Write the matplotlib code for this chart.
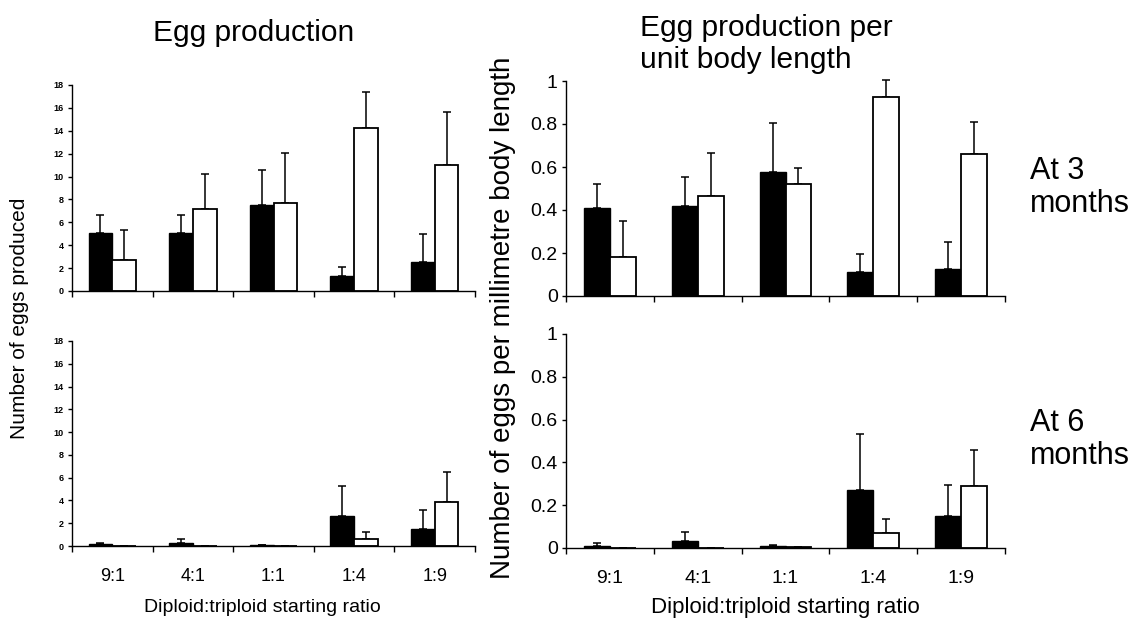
import matplotlib
matplotlib.use("Agg")
import matplotlib.pyplot as plt
import numpy as np

plt.rcParams['font.family'] = ['Liberation Sans', 'DejaVu Sans']

categories = ["9:1", "4:1", "1:1", "1:4", "1:9"]

# Egg production (number of eggs), 3 months
eggs3_diploid = [5.1, 5.1, 7.5, 1.3, 2.5]
eggs3_diploid_err = [1.5, 1.5, 3.1, 0.8, 2.5]
eggs3_triploid = [2.7, 7.2, 7.7, 14.2, 11.0]
eggs3_triploid_err = [2.6, 3.0, 4.4, 3.2, 4.6]

# Egg production, 6 months
eggs6_diploid = [0.15, 0.3, 0.05, 2.6, 1.5]
eggs6_diploid_err = [0.1, 0.3, 0.05, 2.7, 1.7]
eggs6_triploid = [0.0, 0.0, 0.0, 0.6, 3.9]
eggs6_triploid_err = [0.0, 0.0, 0.0, 0.6, 2.6]

# Eggs per mm body length, 3 months
perlen3_diploid = [0.41, 0.42, 0.575, 0.11, 0.125]
perlen3_diploid_err = [0.11, 0.135, 0.23, 0.085, 0.125]
perlen3_triploid = [0.18, 0.465, 0.52, 0.925, 0.66]
perlen3_triploid_err = [0.17, 0.2, 0.075, 0.08, 0.15]

# Eggs per mm body length, 6 months
perlen6_diploid = [0.01, 0.035, 0.008, 0.27, 0.15]
perlen6_diploid_err = [0.015, 0.04, 0.007, 0.265, 0.145]
perlen6_triploid = [0.002, 0.002, 0.003, 0.07, 0.29]
perlen6_triploid_err = [0.0, 0.0, 0.0, 0.065, 0.17]

W, H = 1131, 624
fig = plt.figure(figsize=(W / 100, H / 100), dpi=100)


def make_ax(x0, x1, ytop, ybot):
    return fig.add_axes([x0 / W, 1 - ybot / H, (x1 - x0) / W, (ybot - ytop) / H])


def draw(ax, d, de, t, te, ymax, yticks, ticklabels, tick_fs, tick_bold, show_cats, cat_fs):
    n = len(categories)
    centers = np.arange(n) + 0.5
    bw = 0.295
    ekw = dict(elinewidth=1.1, capsize=3.0, capthick=1.1, ecolor='black', clip_on=False)
    ax.bar(centers - bw / 2, d, bw, color='black', edgecolor='black', linewidth=1.0, zorder=2)
    ax.errorbar(centers - bw / 2, d, yerr=[np.zeros(n), de], fmt='none', zorder=1, **ekw)
    ax.bar(centers + bw / 2, t, bw, color='white', edgecolor='black', linewidth=1.3, zorder=2)
    ax.errorbar(centers + bw / 2, t, yerr=[np.zeros(n), te], fmt='none', zorder=1, **ekw)
    ax.set_xlim(0, n)
    ax.set_ylim(0, ymax)
    for s in ['top', 'right']:
        ax.spines[s].set_visible(False)
    for s in ['left', 'bottom']:
        ax.spines[s].set_linewidth(1.0)
    ax.set_yticks(yticks)
    ax.set_yticklabels(ticklabels, fontsize=tick_fs, fontweight='bold' if tick_bold else 'normal')
    ax.tick_params(axis='y', direction='out', length=3, width=1.0, pad=3)
    ax.set_xticks(np.arange(n + 1), minor=True)
    ax.tick_params(axis='x', which='minor', direction='out', length=4, width=1.0)
    ax.set_xticks(centers)
    if show_cats:
        ax.set_xticklabels(categories, fontsize=cat_fs)
        ax.tick_params(axis='x', which='major', length=0, pad=16)
    else:
        ax.set_xticklabels([])
        ax.tick_params(axis='x', which='major', length=0)


left_yt = list(range(0, 19, 2))
left_lbl = [str(v) for v in left_yt]
right_yt = [0, 0.2, 0.4, 0.6, 0.8, 1.0]
right_lbl = ["0", "0.2", "0.4", "0.6", "0.8", "1"]

ax1 = make_ax(72, 475, 85, 291)
draw(ax1, eggs3_diploid, eggs3_diploid_err, eggs3_triploid, eggs3_triploid_err,
     18, left_yt, left_lbl, 6.5, True, False, 13)
ax2 = make_ax(72, 475, 341, 546)
draw(ax2, eggs6_diploid, eggs6_diploid_err, eggs6_triploid, eggs6_triploid_err,
     18, left_yt, left_lbl, 6.5, True, True, 13)
ax3 = make_ax(566, 1005, 81, 296)
draw(ax3, perlen3_diploid, perlen3_diploid_err, perlen3_triploid, perlen3_triploid_err,
     1.0, right_yt, right_lbl, 14, False, False, 14)
ax4 = make_ax(566, 1005, 334, 548)
draw(ax4, perlen6_diploid, perlen6_diploid_err, perlen6_triploid, perlen6_triploid_err,
     1.0, right_yt, right_lbl, 14, False, True, 14)

fig.text(254 / W, 1 - 33 / H, "Egg production", ha='center', va='center', fontsize=21.5)
fig.text(640 / W, 1 - 44 / H, "Egg production per\nunit body length", ha='left', va='center',
         fontsize=21.5, linespacing=1.2)
fig.text(20 / W, 1 - 318 / H, "Number of eggs produced", rotation=90, ha='center', va='center',
         fontsize=15)
fig.text(503 / W, 1 - 318 / H, "Number of eggs per millimetre body length", rotation=90,
         ha='center', va='center', fontsize=20)
fig.text(262 / W, 1 - 608 / H, "Diploid:triploid starting ratio", ha='center', va='center',
         fontsize=14)
fig.text(785 / W, 1 - 608 / H, "Diploid:triploid starting ratio", ha='center', va='center',
         fontsize=16)
fig.text(1030 / W, 1 - 156 / H, "At 3\nmonths", ha='left', va='top', fontsize=22,
         linespacing=1.15)
fig.text(1030 / W, 1 - 408 / H, "At 6\nmonths", ha='left', va='top', fontsize=22,
         linespacing=1.15)

fig.savefig("out.png", dpi=100)
